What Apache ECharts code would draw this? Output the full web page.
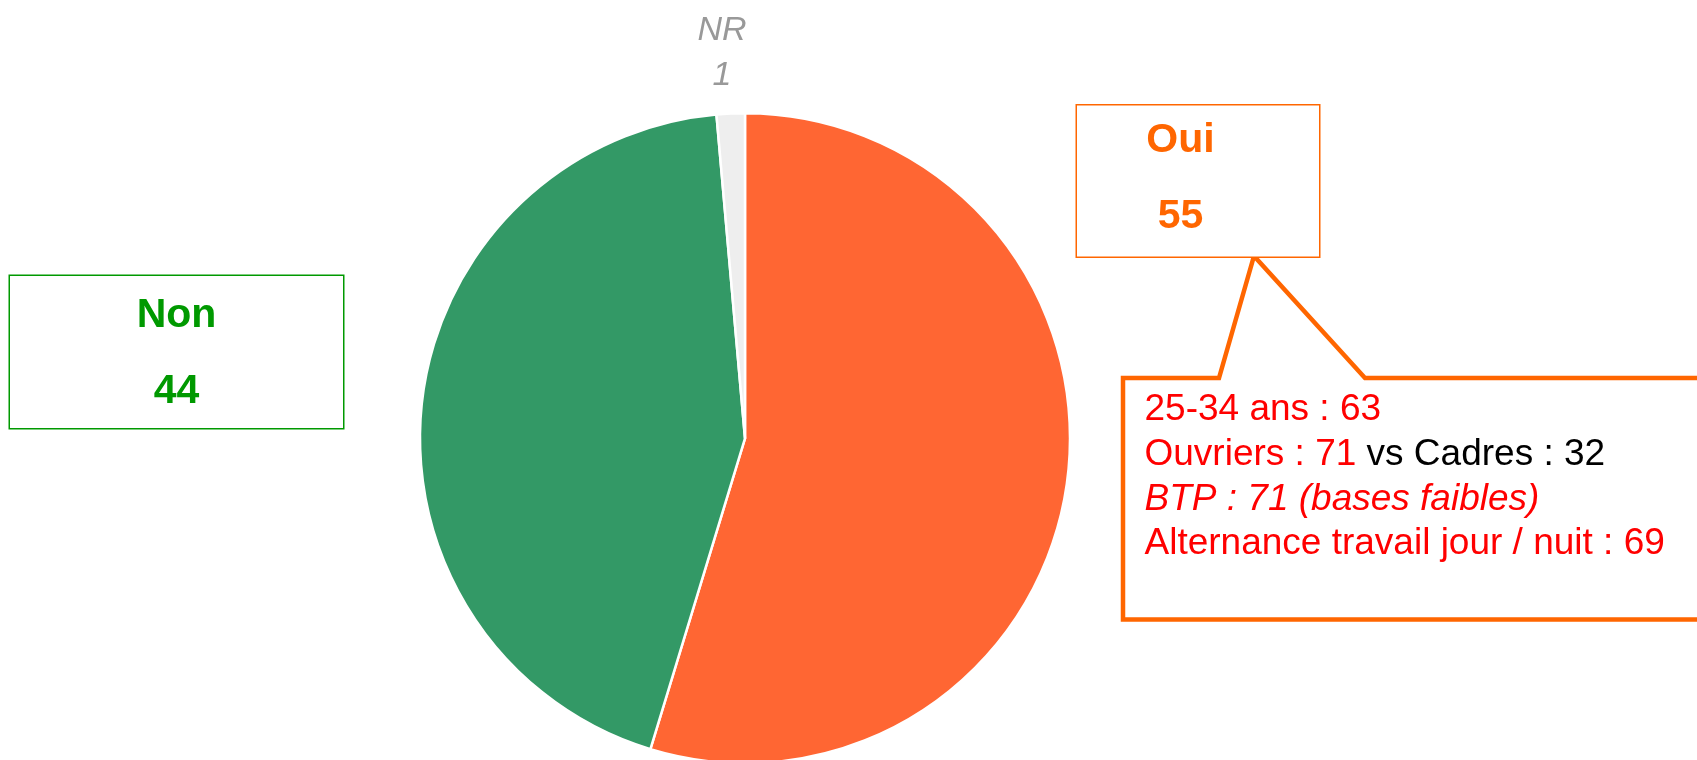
<!DOCTYPE html>
<html>
<head>
<meta charset="utf-8">
<title>Oui / Non</title>
<script src="https://cdn.jsdelivr.net/npm/echarts@6/dist/echarts.min.js"></script>
<style>
  body { margin: 0; background: #fff; }
  #pie { width: 1697px; height: 760px; }
</style>
</head>
<body>
<div id="pie"></div>
<script>
// données du camembert (parts, affichées arrondies)
const categories = ['Oui', 'Non', 'NR'];
const values = [54.7, 43.9, 1.4];
const colors = ['#FF6633', '#339966', '#EEEEEE'];

// détail affiché dans la bulle sous "Oui" : [texte, style]
const detailLines = [
  [['25-34 ans : 63', 'r']],
  [['Ouvriers : 71', 'r'], [' vs Cadres : 32', 'k']],
  [['BTP : 71 (bases faibles)', 'ri']],
  [['Alternance travail jour / nuit : 69', 'r']]
];

const font = 'Liberation Sans, Arial, sans-serif';

// centre de chaque étiquette
const labelPos = [[1198, 181], [176.5, 352], [722, 53]];

function boxLabel(color, width, padding, h1, h2) {
  const tok = { color: color, fontWeight: 'bold', fontSize: 41, fontFamily: font };
  return {
    show: true,
    formatter: function (p) {
      return '{l1|' + p.name + '}\n{l2|' + Math.round(p.value) + '}';
    },
    color: color, fontWeight: 'bold', fontSize: 41, fontFamily: font,
    width: width,
    padding: padding,
    align: 'center',
    borderColor: color,
    borderWidth: 1.5,
    backgroundColor: '#fff',
    rich: {
      l1: Object.assign({ lineHeight: h1 }, tok),
      l2: Object.assign({ lineHeight: h2 }, tok)
    }
  };
}

const labels = [
  boxLabel('#FF6600', 207, [0, 35, 0, 0], 71, 80),
  boxLabel('#009900', 333, 0, 80, 72),
  {
    show: true,
    formatter: function (p) {
      return p.name + '\n' + Math.round(p.value);
    },
    color: '#999999', fontStyle: 'italic', fontSize: 34, fontFamily: font,
    lineHeight: 45, align: 'center'
  }
];

const pieData = categories.map((name, i) => ({
  name: name,
  value: values[i],
  itemStyle: { color: colors[i] },
  label: labels[i]
}));

const detailText = detailLines
  .map(line => line.map(([t, s]) => '{' + s + '|' + t + '}').join(''))
  .join('\n');

let chart = echarts.init(document.getElementById('pie'));
chart.setOption({
  animation: false,
  backgroundColor: '#fff',
  graphic: [
    {
      type: 'polygon',
      z: 0,
      shape: {
        points: [[1123, 378], [1219, 378], [1254, 256], [1365, 378],
                 [1712, 378], [1712, 619.5], [1123, 619.5]]
      },
      style: { fill: '#fff', stroke: '#FF6600', lineWidth: 4.5 }
    },
    {
      type: 'text',
      z: 1,
      x: 1144.5,
      y: 388,
      style: {
        text: detailText,
        verticalAlign: 'top',
        lineHeight: 44.5,
        fontSize: 37,
        fontFamily: font,
        fill: '#FF0000',
        rich: {
          r: { fill: '#FF0000', fontSize: 37, fontFamily: font, lineHeight: 44.5 },
          k: { fill: '#000000', fontSize: 37, fontFamily: font, lineHeight: 44.5 },
          ri: { fill: '#FF0000', fontSize: 37, fontFamily: font, fontStyle: 'italic', lineHeight: 44.5 }
        }
      }
    }
  ],
  series: [
    {
      type: 'pie',
      center: [745, 438.3],
      radius: 325,
      startAngle: 90,
      clockwise: true,
      avoidLabelOverlap: false,
      itemStyle: { borderColor: '#fff', borderWidth: 2.5 },
      label: { position: 'outside' },
      labelLine: { show: false },
      emphasis: { disabled: true },
      labelLayout: function (params) {
        const p = labelPos[params.dataIndex];
        return { x: p[0], y: p[1], align: 'center', verticalAlign: 'middle' };
      },
      data: pieData
    }
  ]
});
</script>
</body>
</html>
